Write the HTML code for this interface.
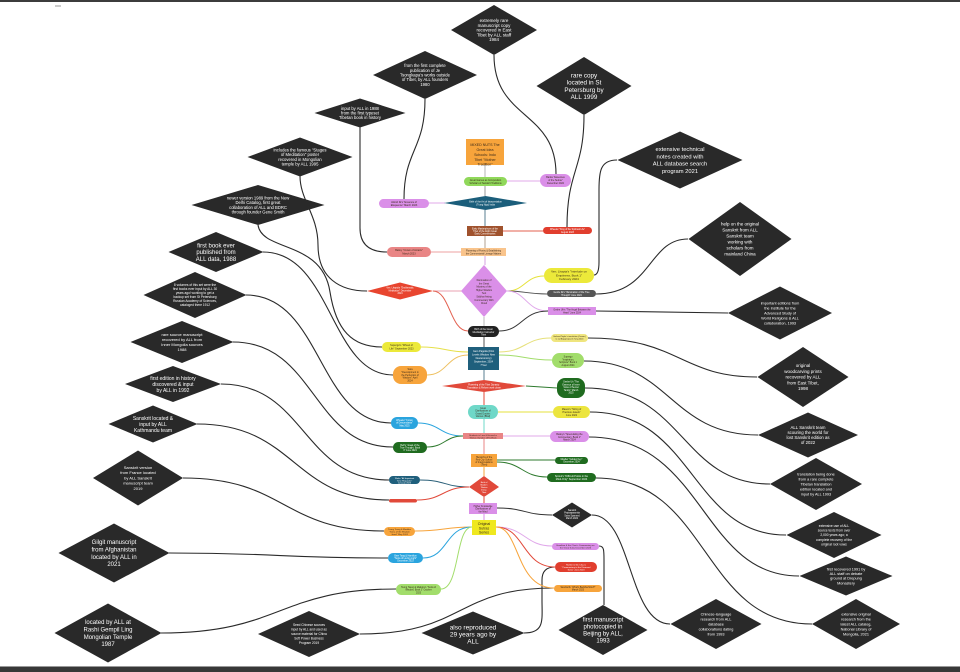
<!DOCTYPE html>
<html>
<head>
<meta charset="utf-8">
<style>
html,body{margin:0;padding:0;background:#fff;}
svg{display:block;}
.w{fill:#fff;font-family:"Liberation Sans",sans-serif;text-anchor:middle;}
.k{fill:#3a2a1a;font-family:"Liberation Sans",sans-serif;text-anchor:middle;}
.bl{fill:none;stroke:#2a2a2a;stroke-width:1.1;}
.c{fill:none;stroke-width:1;}
.dm{fill:#292929;}
</style>
</head>
<body>
<svg width="960" height="672" viewBox="0 0 960 672" xmlns="http://www.w3.org/2000/svg">
<rect width="960" height="672" fill="#fff"/>
<rect x="0" y="0" width="960" height="2" fill="#3c3c3c"/>
<rect x="55" y="5" width="6" height="2" fill="#ccc"/>
<rect x="0" y="666" width="960" height="1" fill="#999"/>
<rect x="0" y="667" width="960" height="5" fill="#383838"/>

<!-- black connectors -->
<path class="bl" d="M494,55 C494,120 556,110 556,174"/>
<path class="bl" d="M584,115 C584,170 567,170 567,227"/>
<path class="bl" d="M617,160 C600,160 599,172 599,190 L599,262 C599,272 597,275 594,275"/>
<path class="bl" d="M688,239 C648,239 652,294 596,294"/>
<path class="bl" d="M728,313 L596,311"/>
<path class="bl" d="M588,338 C680,338 680,377 757,377"/>
<path class="bl" d="M584,361 C670,361 670,435 758,435"/>
<path class="bl" d="M585,388 C685,388 680,484 770,484"/>
<path class="bl" d="M590,412 C695,412 690,535 786,535"/>
<path class="bl" d="M589,437 C705,437 700,576 799,576"/>
<path class="bl" d="M596,478 C710,478 700,624 812,624"/>
<path class="bl" d="M592,515 C632,515 628,624 670,624"/>
<path class="bl" d="M599,546 C604,546 604,550 604,560 L604,605"/>
<path class="bl" d="M524,633 C545,633 542,620 542,600 L542,580 C542,570 548,567 555,567"/>
<path class="bl" d="M360,634 C465,634 455,588 554,588"/>
<path class="bl" d="M425,99 C425,150 404,150 404,199"/>
<path class="bl" d="M360,127 L360,228 C360,245 370,252 387,252"/>
<path class="bl" d="M300,176 C300,200 318,215 318,245 C318,278 340,291 367,291"/>
<path class="bl" d="M258,225 C262,252 322,240 330,292 C336,330 352,347 382,347"/>
<path class="bl" d="M263,252 C332,252 330,375 393,375"/>
<path class="bl" d="M246,295 C322,295 318,423 391,423"/>
<path class="bl" d="M233,342 C316,342 312,447 393,447"/>
<path class="bl" d="M221,384 C306,384 302,480 389,480"/>
<path class="bl" d="M197,424 C296,424 292,500 389,500"/>
<path class="bl" d="M183,478 C286,478 282,531 384,531"/>
<path class="bl" d="M169,553 C280,553 280,558 388,558"/>
<path class="bl" d="M161,633 C282,633 278,589 396,589"/>

<!-- spine -->
<path class="c" stroke="#b5b5b5" d="M485,165 L485,177"/>
<path class="c" stroke="#9a9a9a" d="M485,186 L485,196"/>
<path class="c" stroke="#5a7f90" d="M485,210 L485,226"/>
<path class="c" stroke="#b0a090" d="M485,236 L485,248"/>
<path class="c" stroke="#d6a0e0" d="M485,256 L485,265"/>
<path class="c" stroke="#bbb" d="M484,317 L484,326"/>
<path class="c" stroke="#555" d="M484,337 L484,347"/>
<path class="c" stroke="#5a7f90" d="M484,370 L484,380"/>
<path class="c" stroke="#e1493a" d="M484,392 L484,405"/>
<path class="c" stroke="#6fd8c8" d="M484,419 L484,433"/>
<path class="c" stroke="#e98585" d="M484,439 L484,454"/>
<path class="c" stroke="#f7a43b" d="M484,467 L484,476"/>
<path class="c" stroke="#e1493a" d="M484,497 L484,503"/>
<path class="c" stroke="#da8fe8" d="M484,514 L484,520"/>

<!-- colored side connectors -->
<path class="c" stroke="#e0a8ea" d="M507,181 L540,181"/>
<path class="c" stroke="#e0a8ea" d="M429,203 L445,203"/>
<path class="c" stroke="#e3604f" d="M503,231 L543,231"/>
<path class="c" stroke="#eea0a0" d="M431,252 L461,252"/>
<path class="c" stroke="#eaa0b0" d="M433,291 L462,291"/>
<path class="c" stroke="#e6e23a" d="M507,291 C525,291 525,276 544,276"/>
<path class="c" stroke="#555" d="M507,291 C525,291 527,294 547,294"/>
<path class="c" stroke="#e0a8ea" d="M507,291 C526,291 526,311 548,311"/>
<path class="c" stroke="#e3604f" d="M433,291 C450,291 450,331 468,331"/>
<path class="c" stroke="#333" d="M499,331 C522,331 522,311 548,311"/>
<path class="c" stroke="#e6e04a" d="M468,352 C445,352 445,347 421,347"/>
<path class="c" stroke="#eec060" d="M468,355 C447,355 447,375 427,375"/>
<path class="c" stroke="#e6e07a" d="M499,352 C525,352 525,338 551,338"/>
<path class="c" stroke="#a2dd6b" d="M499,355 C525,355 525,360 552,360"/>
<path class="c" stroke="#2e7a2e" d="M526,386 L557,388"/>
<path class="c" stroke="#e6e03e" d="M498,412 L553,412"/>
<path class="c" stroke="#2aa4de" d="M463,436 C440,436 440,423 418,423"/>
<path class="c" stroke="#2e7a2e" d="M463,436 C445,436 445,447 427,447"/>
<path class="c" stroke="#e0a8ea" d="M503,436 L550,436"/>
<path class="c" stroke="#2e7a2e" d="M497,460 L555,460"/>
<path class="c" stroke="#2e7a2e" d="M497,462 C522,462 522,477 547,477"/>
<path class="c" stroke="#2a5f78" d="M469,487 C445,487 445,480 420,480"/>
<path class="c" stroke="#e1493a" d="M469,487 C443,487 443,500 417,500"/>
<path class="c" stroke="#333" d="M497,508 C525,508 525,515 552,515"/>
<path class="c" stroke="#f7a43b" d="M472,527 C444,527 444,531 415,531"/>
<path class="c" stroke="#2aa4de" d="M472,527 C445,527 448,558 423,558"/>
<path class="c" stroke="#a2dd6b" d="M472,527 C455,527 460,589 441,589"/>
<path class="c" stroke="#e0a8ea" d="M496,527 C525,527 525,546 552,546"/>
<path class="c" stroke="#e1493a" d="M496,527 C525,527 522,567 555,567"/>
<path class="c" stroke="#f7a43b" d="M496,527 C520,527 515,588 554,588"/>

<!-- center nodes -->
<rect x="466" y="139" width="38" height="26" fill="#f7a43b"/>
<text class="k" font-size="3.6"><tspan x="485" y="146">MIXED NUTS The</tspan><tspan x="485" y="151">Great Idea</tspan><tspan x="485" y="156">Schools: Indo</tspan><tspan x="485" y="161">Tibet "Mother</tspan><tspan x="485" y="165.5">Tradition"</tspan></text>

<rect x="464" y="177" width="43" height="9" rx="4.5" fill="#90d85a"/>
<text class="k" font-size="2.4"><tspan x="485.5" y="181">Great Games as Composition</tspan><tspan x="485.5" y="184">Scholars of Sanskrit Traditions</tspan></text>

<polygon points="444,203 485.5,196 527,203 485.5,210" fill="#1b5e7b"/>
<text class="w" font-size="2.4"><tspan x="485.5" y="202.5">Birth of the Art of Interpretation</tspan><tspan x="485.5" y="205.5">(Trung Ngo) India</tspan></text>

<rect x="467" y="226" width="36" height="10" fill="#a0522d"/>
<text class="w" font-size="2.3"><tspan x="485" y="229.5">Early Masterpieces of the</tspan><tspan x="485" y="232">Tibet of the Eight Great</tspan><tspan x="485" y="234.5">Early Commentaries</tspan></text>

<rect x="461" y="248" width="45" height="8" fill="#f9c48c"/>
<text class="k" font-size="2.3"><tspan x="483.5" y="251.5">Flowering of Poetry &amp; Establishing</tspan><tspan x="483.5" y="254.5">the Commentarial Lineage Matters</tspan></text>

<polygon points="461,291 484,265 507,291 484,317" fill="#da8fe8"/>
<text class="k" font-size="2.4"><tspan x="484" y="281">Illumination of</tspan><tspan x="484" y="284.3">the Great</tspan><tspan x="484" y="287.6">Mystery of the</tspan><tspan x="484" y="290.9">Higher Wisdom</tspan><tspan x="484" y="294.2">Text</tspan><tspan x="484" y="297.5">Siddha Arising</tspan><tspan x="484" y="300.8">Commentary With</tspan><tspan x="484" y="304.1">Cloud</tspan></text>

<rect x="468" y="326" width="31" height="11" rx="5.5" fill="#222"/>
<text class="w" font-size="2.4"><tspan x="483.5" y="330">Birth of the Great</tspan><tspan x="483.5" y="332.8">Meditation Instructor</tspan><tspan x="483.5" y="335.6">Tibet</tspan></text>

<rect x="468" y="347" width="31" height="23" fill="#1f5f7c"/>
<text class="w" font-size="2.5"><tspan x="483.5" y="352">Gem Pagoda (First</tspan><tspan x="483.5" y="355.5">Levels Wisdom New</tspan><tspan x="483.5" y="359">Deuteronomy)</tspan><tspan x="483.5" y="362.5">September, 2024</tspan><tspan x="483.5" y="366">7"Gel</tspan></text>

<polygon points="442,386 484,380 526,386 484,392" fill="#e1493a"/>
<text class="w" font-size="2.3"><tspan x="484" y="385.5">Flowering of the Tibet Dynasty:</tspan><tspan x="484" y="388.3">Translation &amp; Reform work closer</tspan></text>

<rect x="468" y="405" width="30" height="14" rx="7" fill="#6fd8c8"/>
<text class="k" font-size="2.3"><tspan x="483" y="409">Great</tspan><tspan x="483" y="411.7">Clarifications of</tspan><tspan x="483" y="414.4">Grand Doubts:</tspan><tspan x="483" y="417.1">Various (Bhal)</tspan></text>

<rect x="463" y="433" width="40" height="6" fill="#e98585"/>
<text class="k" font-size="2.2"><tspan x="483" y="435.8">Students in Lam &amp; Hierarchs</tspan><tspan x="483" y="438.3">Tibetan Ganden 1370-Wash</tspan></text>

<rect x="471" y="454" width="26" height="13" fill="#f7a43b"/>
<text class="k" font-size="2.3"><tspan x="484" y="457.8">Hierarchs of the</tspan><tspan x="484" y="460.4">Red City School</tspan><tspan x="484" y="463">of Interpretations</tspan><tspan x="484" y="465.6">(Tibet)</tspan></text>

<polygon points="469,487 484,476 499,487 484,497" fill="#e1493a"/>
<text class="w" font-size="2.1"><tspan x="484" y="483">Birth of</tspan><tspan x="484" y="485.5">Modern</tspan><tspan x="484" y="488">Tibetan</tspan><tspan x="484" y="490.5">Interp.</tspan><tspan x="484" y="493">Tibet</tspan></text>

<rect x="469" y="503" width="28" height="11" fill="#da8fe8"/>
<text class="k" font-size="2.3"><tspan x="483" y="507">Higher Knowledge</tspan><tspan x="483" y="509.7">Clarifications of</tspan><tspan x="483" y="512.4">the Mind</tspan></text>

<rect x="472" y="520" width="24" height="15" fill="#efe81f"/>
<text class="k" font-size="3.6"><tspan x="484" y="525">Original</tspan><tspan x="484" y="529.3">Sutras</tspan><tspan x="484" y="533.6">Series</tspan></text>

<!-- right nodes -->
<rect x="540" y="174" width="31" height="13" rx="6.5" fill="#da8fe8"/>
<text class="k" font-size="2.4"><tspan x="555.5" y="178">Banks "Essences</tspan><tspan x="555.5" y="181">of the Sutras"</tspan><tspan x="555.5" y="184">December 2022</tspan></text>

<rect x="543" y="227" width="49" height="7" rx="3.5" fill="#e13e2e"/>
<text class="w" font-size="2.3"><tspan x="567.5" y="230">Wheeler "King of the Spiritual Life"</tspan><tspan x="567.5" y="232.8">August 2023</tspan></text>

<rect x="544" y="268" width="50" height="15" rx="7.5" fill="#ece93a"/>
<text class="k" font-size="3"><tspan x="569" y="272.5">Ven. Lhapta's "Interlude on</tspan><tspan x="569" y="276.3">Emptiness, Book 1"</tspan><tspan x="569" y="280.1">February 2024</tspan></text>

<rect x="547" y="290" width="49" height="7" rx="3.5" fill="#555"/>
<text class="w" font-size="2.3"><tspan x="571.5" y="293">Geshe Ilk's "Illumination of the True</tspan><tspan x="571.5" y="295.8">Thought" June 2024</tspan></text>

<rect x="548" y="307" width="48" height="8" fill="#da8fe8"/>
<text class="k" font-size="2.3"><tspan x="572" y="310.5">Geshe Uh's "The Angel Between the</tspan><tspan x="572" y="313.3">Heart" June 2024</tspan></text>

<rect x="551" y="334" width="37" height="8" rx="4" fill="#efe57e"/>
<text class="k" font-size="2"><tspan x="569.5" y="337">Gerhard Tayler's translation (Comm.)</tspan><tspan x="569.5" y="339.4">to Lal Atpaptorpaem Tang 2024</tspan></text>

<rect x="552" y="353" width="32" height="15" rx="7.5" fill="#a2dd6b"/>
<text class="k" font-size="2.3"><tspan x="568" y="357.5">Supergo</tspan><tspan x="568" y="360.3">"Inspiration,</tspan><tspan x="568" y="363.1">Scripture" Book 1</tspan><tspan x="568" y="365.9">August 2024</tspan></text>

<rect x="557" y="378" width="28" height="20" rx="8" fill="#1f6b1f"/>
<text class="w" font-size="2.3"><tspan x="571" y="382.5">Geshe Uh "The</tspan><tspan x="571" y="385.3">Essence of Inner</tspan><tspan x="571" y="388.1">Vows of Secret</tspan><tspan x="571" y="390.9">Tantric" March</tspan><tspan x="571" y="393.7">2025</tspan></text>

<rect x="553" y="406" width="37" height="12" rx="6" fill="#ece53e"/>
<text class="k" font-size="2.4"><tspan x="571.5" y="410">Mason's "String of</tspan><tspan x="571.5" y="413">Precious Jewels"</tspan><tspan x="571.5" y="416">June 2022</tspan></text>

<rect x="550" y="431" width="39" height="11" rx="5.5" fill="#da8fe8"/>
<text class="k" font-size="2.4"><tspan x="569.5" y="435">Bailey's "Speculating the</tspan><tspan x="569.5" y="437.8">Commentary, Book 1"</tspan><tspan x="569.5" y="440.6">March 2024</tspan></text>

<rect x="555" y="457" width="33" height="7" rx="3.5" fill="#1f6b1f"/>
<text class="w" font-size="2.3"><tspan x="571.5" y="460">Moeller "Golden Key"</tspan><tspan x="571.5" y="462.7">December 2024</tspan></text>

<rect x="547" y="473" width="49" height="9" rx="4.5" fill="#1f6b1f"/>
<text class="w" font-size="2.5"><tspan x="571.5" y="477">Sproul's "Difficult Points in the</tspan><tspan x="571.5" y="480">Mind-Only" September 2024</tspan></text>

<polygon points="552,515 572,502.5 592,515 572,527.5" class="dm"/>
<text class="w" font-size="2.3"><tspan x="572" y="511">Sanskrit</tspan><tspan x="572" y="513.7">Prajnaparamita</tspan><tspan x="572" y="516.4">Sutra Spanned</tspan><tspan x="572" y="519.1">March 2022</tspan></text>

<rect x="552" y="543" width="47" height="7" rx="3.5" fill="#da8fe8"/>
<text class="k" font-size="2.2"><tspan x="575.5" y="546">Hamilton &amp; Sin Chau's Commentary on</tspan><tspan x="575.5" y="548.6">the Great Sutra December 2023</tspan></text>

<rect x="555" y="562" width="42" height="10" rx="5" fill="#e13e2e"/>
<text class="w" font-size="2.2"><tspan x="576" y="565.5">Hamlin &amp; Sin Chau's</tspan><tspan x="576" y="568">"Commentary to the Diamond</tspan><tspan x="576" y="570.5">Sutra" June 2023</tspan></text>

<rect x="554" y="585" width="48" height="7" rx="3.5" fill="#f7a43b"/>
<text class="k" font-size="2.3"><tspan x="578" y="588">Sandra Ilk "What's Buddha Mind?"</tspan><tspan x="578" y="590.7">March 2023</tspan></text>

<!-- left nodes -->
<rect x="379" y="199" width="50" height="9" rx="4.5" fill="#da8fe8"/>
<text class="k" font-size="2.5"><tspan x="404" y="202.8">Alstrid Ilk's "Essence of</tspan><tspan x="404" y="205.8">Eloquence" March 2023</tspan></text>

<rect x="387" y="247" width="44" height="10" rx="5" fill="#e98585"/>
<text class="k" font-size="2.5"><tspan x="409" y="251">Bailey "Crown of Antaris"</tspan><tspan x="409" y="254.3">March 2023</tspan></text>

<polygon points="367,291 400,282.5 433,291 400,299.5" fill="#e8452f"/>
<text class="w" font-size="2.3"><tspan x="400" y="288.5">Ven. Lhapta's "Emblematic</tspan><tspan x="400" y="291.3">Meditation" December</tspan><tspan x="400" y="294.1">2024</tspan></text>

<rect x="382" y="342" width="39" height="10" rx="5" fill="#ece93a"/>
<text class="k" font-size="2.5"><tspan x="401.5" y="346">Supergo's "Wheel of</tspan><tspan x="401.5" y="349.3">Life" September 2023</tspan></text>

<rect x="393" y="366" width="34" height="18" rx="8" fill="#f7a43b"/>
<text class="k" font-size="2.4"><tspan x="410" y="370">Sara</tspan><tspan x="410" y="372.9">"Development in</tspan><tspan x="410" y="375.8">the Perfection of</tspan><tspan x="410" y="378.7">Wisdom" April</tspan><tspan x="410" y="381.6">2024</tspan></text>

<rect x="391" y="417" width="27" height="12" rx="6" fill="#2aa4de"/>
<text class="w" font-size="2.3"><tspan x="404.5" y="421">Wheeler "Crown</tspan><tspan x="404.5" y="423.7">of Descendants"</tspan><tspan x="404.5" y="426.4">May 2025</tspan></text>

<rect x="393" y="442" width="34" height="11" rx="5.5" fill="#1f6b1f"/>
<text class="w" font-size="2.3"><tspan x="410" y="445.8">Bell's "Jewel of the</tspan><tspan x="410" y="448.5">True Thought, Book</tspan><tspan x="410" y="451.2">3" June 2024</tspan></text>

<rect x="389" y="476" width="31" height="8" rx="4" fill="#1f5f7c"/>
<text class="w" font-size="2.2"><tspan x="404.5" y="479">Wahn "All Important</tspan><tspan x="404.5" y="481.5">Tone Requisite"</tspan><tspan x="404.5" y="483.5">January 2025</tspan></text>

<rect x="389" y="499" width="28" height="3.5" rx="1.7" fill="#e1493a"/>

<rect x="384" y="527" width="31" height="9" rx="4.5" fill="#f7a43b"/>
<text class="k" font-size="2.2"><tspan x="399.5" y="530">Tsong Tsang &amp; Maddox</tspan><tspan x="399.5" y="532.4">"Sutra of the Wisdom</tspan><tspan x="399.5" y="534.8">Jewel" May 2024</tspan></text>

<rect x="388" y="553" width="35" height="10" rx="5" fill="#2aa4de"/>
<text class="w" font-size="2.3"><tspan x="405.5" y="556.5">Beer Tang &amp; Hamilton</tspan><tspan x="405.5" y="559">"Sutra of Loving Light"</tspan><tspan x="405.5" y="561.5">December 2023</tspan></text>

<rect x="396" y="584" width="45" height="11" rx="5.5" fill="#a2dd6b"/>
<text class="k" font-size="2.3"><tspan x="418.5" y="588">Tsong Tsang &amp; Maddox's "Sutra of</tspan><tspan x="418.5" y="590.7">Wisdom, Book 3" October</tspan><tspan x="418.5" y="593.4">2023</tspan></text>

<!-- outer diamonds -->
<polygon class="dm" points="451,30 494,5 537,30 494,55"/>
<text class="w" font-size="4.5"><tspan x="494" y="22.2">extremely rare</tspan><tspan x="494" y="26.9">manuscript copy</tspan><tspan x="494" y="31.6">recovered in East</tspan><tspan x="494" y="36.3">Tibet by ALL staff</tspan><tspan x="494" y="41">1984</tspan></text>

<polygon class="dm" points="373,75 425,51 477,75 425,99"/>
<text class="w" font-size="4.2"><tspan x="425" y="67.1">from the first complete</tspan><tspan x="425" y="71.8">publication of Je</tspan><tspan x="425" y="76.5">Tsongkapa's works outside</tspan><tspan x="425" y="81.2">of Tibet, by ALL founders</tspan><tspan x="425" y="85.9">1980</tspan></text>

<polygon class="dm" points="314.5,113 360,98.5 405.5,113 360,127.5"/>
<text class="w" font-size="4.2"><tspan x="360" y="109.8">input by ALL in 1988</tspan><tspan x="360" y="114.5">from the first typeset</tspan><tspan x="360" y="119.2">Tibetan book in history</tspan></text>

<polygon class="dm" points="247.5,157 300,137.5 352.5,157 300,176.5"/>
<text class="w" font-size="4.2"><tspan x="300" y="151.5">includes the famous "Stages</tspan><tspan x="300" y="156.2">of Meditation" poster</tspan><tspan x="300" y="160.9">recovered in Mongolian</tspan><tspan x="300" y="165.6">temple by ALL 1995</tspan></text>

<polygon class="dm" points="191.5,205 258,185 324.5,205 258,225"/>
<text class="w" font-size="4.2"><tspan x="258" y="199.5">newer version 1989 from the New</tspan><tspan x="258" y="204.2">Delhi Catalog, first great</tspan><tspan x="258" y="208.9">collaboration of ALL and BDRC</tspan><tspan x="258" y="213.6">through founder Gene Smith</tspan></text>

<polygon class="dm" points="168.5,252 216,232 263.5,252 216,272"/>
<text class="w" font-size="6"><tspan x="216" y="247.4">first book ever</tspan><tspan x="216" y="254.1">published from</tspan><tspan x="216" y="260.8">ALL data, 1988</tspan></text>

<polygon class="dm" points="143.5,295 195,272 246.5,295 195,318"/>
<text class="w" font-size="3.2"><tspan x="195" y="286.1">8 volumes of this set were the</tspan><tspan x="195" y="290.1">first books ever input by ALL 30</tspan><tspan x="195" y="294.1">years ago! working to get a</tspan><tspan x="195" y="298.1">backup set from St Petersburg</tspan><tspan x="195" y="302.1">Russian Academy of Sciences,</tspan><tspan x="195" y="306.1">cataloged there 1912</tspan></text>

<polygon class="dm" points="130.5,342 182,321 233.5,342 182,363"/>
<text class="w" font-size="4"><tspan x="182" y="335.9">rare source manuscript</tspan><tspan x="182" y="340.9">recovered by ALL from</tspan><tspan x="182" y="345.9">Inner Mongolia sources</tspan><tspan x="182" y="350.9">1988</tspan></text>

<polygon class="dm" points="125,384 173,366 221,384 173,402"/>
<text class="w" font-size="5"><tspan x="173" y="379.8">first edition in history</tspan><tspan x="173" y="385.8">discovered &amp; input</tspan><tspan x="173" y="391.8">by ALL in 1992</tspan></text>

<polygon class="dm" points="108.5,424 153,405.5 197.5,424 153,442.5"/>
<text class="w" font-size="5"><tspan x="153" y="419.8">Sanskrit located &amp;</tspan><tspan x="153" y="425.8">input by ALL</tspan><tspan x="153" y="431.8">Kathmandu team</tspan></text>

<polygon class="dm" points="93,478 138,450.5 183,478 138,505.5"/>
<text class="w" font-size="4"><tspan x="138" y="468.8">Sanskrit version</tspan><tspan x="138" y="474.1">from France located</tspan><tspan x="138" y="479.4">by ALL Sanskrit</tspan><tspan x="138" y="484.7">manuscript team</tspan><tspan x="138" y="490">2019</tspan></text>

<polygon class="dm" points="58.5,553 114,523.5 169.5,553 114,582.5"/>
<text class="w" font-size="6"><tspan x="114" y="544.2">Gilgit manuscript</tspan><tspan x="114" y="551.5">from Afghanistan</tspan><tspan x="114" y="558.8">located by ALL in</tspan><tspan x="114" y="566.1">2021</tspan></text>

<polygon class="dm" points="54.5,633 108,603.5 161.5,633 108,662.5"/>
<text class="w" font-size="6"><tspan x="108" y="624.2">located by ALL at</tspan><tspan x="108" y="631.5">Rashi Gempil Ling</tspan><tspan x="108" y="638.8">Mongolian Temple</tspan><tspan x="108" y="646.1">1987</tspan></text>

<polygon class="dm" points="258,634 309,611 360,634 309,657"/>
<text class="w" font-size="3.2"><tspan x="309" y="626.1">Seed Chinese sources</tspan><tspan x="309" y="630.6">input by ALL and used as</tspan><tspan x="309" y="635.1">source material for China</tspan><tspan x="309" y="639.6">Soft Power Business</tspan><tspan x="309" y="644.1">Program 2019</tspan></text>

<polygon class="dm" points="421.5,633 473,611.5 524.5,633 473,654.5"/>
<text class="w" font-size="6.5"><tspan x="473" y="629.5">also reproduced</tspan><tspan x="473" y="636.5">29 years ago by</tspan><tspan x="473" y="643.5">ALL</tspan></text>

<polygon class="dm" points="558.5,630 603,605 647.5,630 603,655"/>
<text class="w" font-size="6"><tspan x="603" y="621.6">first manuscript</tspan><tspan x="603" y="628.6">photocopied in</tspan><tspan x="603" y="635.6">Beijing by ALL,</tspan><tspan x="603" y="642.6">1993</tspan></text>

<polygon class="dm" points="670.5,624 716,599 761.5,624 716,649"/>
<text class="w" font-size="3.8"><tspan x="716" y="615.3">Chinese-language</tspan><tspan x="716" y="620.3">research from ALL</tspan><tspan x="716" y="625.3">database</tspan><tspan x="716" y="630.3">collaborations dating</tspan><tspan x="716" y="635.3">from 1993</tspan></text>

<polygon class="dm" points="812,624 856,599 900,624 856,649"/>
<text class="w" font-size="3.8"><tspan x="856" y="615.3">extensive original</tspan><tspan x="856" y="620.3">research from the</tspan><tspan x="856" y="625.3">latest ALL catalog,</tspan><tspan x="856" y="630.3">National Library of</tspan><tspan x="856" y="635.3">Mongolia, 2021</tspan></text>

<polygon class="dm" points="799.5,576 846,556.5 892.5,576 846,595.5"/>
<text class="w" font-size="3.8"><tspan x="846" y="570.3">first recovered 1991 by</tspan><tspan x="846" y="575">ALL staff on debate</tspan><tspan x="846" y="579.7">ground at Drepung</tspan><tspan x="846" y="584.4">Monastery</tspan></text>

<polygon class="dm" points="786.5,535 834,512 881.5,535 834,558"/>
<text class="w" font-size="3.3"><tspan x="834" y="526.8">extensive use of ALL</tspan><tspan x="834" y="531.5">source texts from over</tspan><tspan x="834" y="536.2">2,000 years ago; a</tspan><tspan x="834" y="540.9">complete recovery of the</tspan><tspan x="834" y="545.6">original root vows</tspan></text>

<polygon class="dm" points="770,484 816,458 862,484 816,510"/>
<text class="w" font-size="3.8"><tspan x="816" y="475.3">translation being done</tspan><tspan x="816" y="480.3">from a rare complete</tspan><tspan x="816" y="485.3">Tibetan translation</tspan><tspan x="816" y="490.3">edition located and</tspan><tspan x="816" y="495.3">input by ALL 1993</tspan></text>

<polygon class="dm" points="758,435 808,412.5 858,435 808,457.5"/>
<text class="w" font-size="4.3"><tspan x="808" y="429">ALL Sanskrit team</tspan><tspan x="808" y="434">scouring the world for</tspan><tspan x="808" y="439">lost Sanskrit edition as</tspan><tspan x="808" y="444">of 2022</tspan></text>

<polygon class="dm" points="757.5,377 803,347 848.5,377 803,407"/>
<text class="w" font-size="4.5"><tspan x="803" y="367">original</tspan><tspan x="803" y="372.8">woodcarving prints</tspan><tspan x="803" y="378.6">recovered by ALL</tspan><tspan x="803" y="384.4">from East Tibet,</tspan><tspan x="803" y="390.2">1998</tspan></text>

<polygon class="dm" points="728,313 780,286.5 832,313 780,339.5"/>
<text class="w" font-size="3.8"><tspan x="780" y="304.3">important editions from</tspan><tspan x="780" y="309.3">the Institute for the</tspan><tspan x="780" y="314.3">Advanced Study of</tspan><tspan x="780" y="319.3">World Religions &amp; ALL</tspan><tspan x="780" y="324.3">collaboration, 1993</tspan></text>

<polygon class="dm" points="688.5,239 740,202 791.5,239 740,276"/>
<text class="w" font-size="4.5"><tspan x="740" y="225.6">help on the original</tspan><tspan x="740" y="231.6">Sanskrit from ALL</tspan><tspan x="740" y="237.6">Sanskrit team</tspan><tspan x="740" y="243.6">working with</tspan><tspan x="740" y="249.6">scholars from</tspan><tspan x="740" y="255.6">mainland China</tspan></text>

<polygon class="dm" points="617.5,160 680,131.5 742.5,160 680,188.5"/>
<text class="w" font-size="5.8"><tspan x="680" y="151.2">extensive technical</tspan><tspan x="680" y="158.4">notes created with</tspan><tspan x="680" y="165.6">ALL database search</tspan><tspan x="680" y="172.8">program 2021</tspan></text>

<polygon class="dm" points="536.5,86 584,57 631.5,86 584,115"/>
<text class="w" font-size="6.3"><tspan x="584" y="77.3">rare copy</tspan><tspan x="584" y="84.6">located in St</tspan><tspan x="584" y="91.9">Petersburg by</tspan><tspan x="584" y="99.2">ALL 1999</tspan></text>
</svg>
</body>
</html>
